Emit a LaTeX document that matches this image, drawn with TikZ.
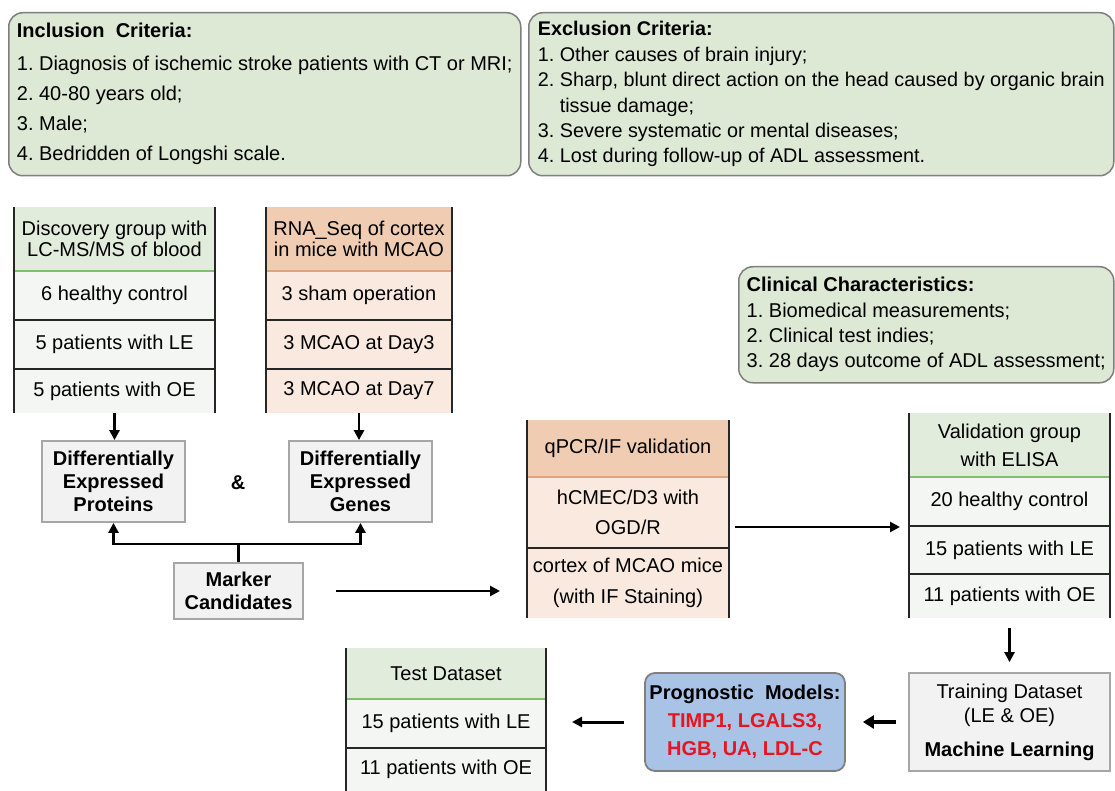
\documentclass[tikz,border=0pt]{standalone}
\usepackage{fontspec}
\setmainfont{Liberation Sans}
\usetikzlibrary{positioning,arrows.meta}
\frenchspacing

\definecolor{boxgreen}{HTML}{DDE8D5}
\definecolor{critgray}{HTML}{7F7F7F}
\definecolor{headgreen}{HTML}{E2ECDC}
\definecolor{rowgreen}{HTML}{F4F6F3}
\definecolor{linegreen}{HTML}{7FBF6F}
\definecolor{headorange}{HTML}{F0CDB2}
\definecolor{roworange}{HTML}{F9E9DE}
\definecolor{lineorange}{HTML}{E2A27C}
\definecolor{boxgray}{HTML}{F2F2F2}
\definecolor{bordergray}{HTML}{A6A6A6}
\definecolor{modelblue}{HTML}{A9C3E6}
\definecolor{markred}{HTML}{E8141E}

\newcommand{\fs}{\fontsize{20}{24}\selectfont}

\tikzset{
  crit/.style={draw=critgray, fill=boxgreen, line width=1.5pt, rounded corners=14pt, anchor=north west, align=left, inner sep=0pt},
  tcell/.style={inner sep=0pt, outer sep=0pt, align=center, font=\fs},
  greenhead/.style={tcell, fill=headgreen},
  greenrow/.style={tcell, fill=rowgreen},
  orangehead/.style={tcell, fill=headorange},
  orangerow/.style={tcell, fill=roworange},
  side/.style={line width=2.2pt, black!85},
  sep/.style={line width=1.8pt, black!85},
  graybox/.style={draw=bordergray, fill=boxgray, line width=1.8pt, align=center, inner sep=0pt},
  arr/.style={-{Triangle[length=10pt,width=10pt]}, line width=2.6pt},
}

\begin{document}
\begin{tikzpicture}[x=1pt,y=-1pt]
  \useasboundingbox (0,0) rectangle (1115,791);

  \node[crit, minimum width=512pt, minimum height=163pt, font=\fontsize{20}{30}\selectfont] (incl) at (8,12)
    {\textbf{Inclusion\ \ Criteria:}\\[3pt]
     1. Diagnosis of ischemic stroke patients with CT or MRI;\\
     2. 40-80 years old;\\
     3. Male;\\
     4. Bedridden of Longshi scale.};
  \node[crit, minimum width=585pt, minimum height=163pt, font=\fontsize{19.8}{25.4}\selectfont] (excl) at (528,12)
    {\textbf{Exclusion Criteria:}\\
     1. Other causes of brain injury;\\
     2. Sharp, blunt direct action on the head caused by organic brain\\
     \phantom{2. }tissue damage;\\
     3. Severe systematic or mental diseases;\\
     4. Lost during follow-up of ADL assessment.};
  \node[crit, minimum width=375pt, minimum height=116pt, font=\fontsize{20}{25.3}\selectfont] (clin) at (738,266)
    {\textbf{Clinical Characteristics:}\\
     1. Biomedical measurements;\\
     2. Clinical test indies;\\
     3. 28 days outcome of ADL assessment;};

  \node[greenhead, minimum width=201pt, minimum height=64pt, anchor=north west, font=\fontsize{20}{20.5}\selectfont] (dgHead) at (14,207) {Discovery group with\\LC-MS/MS of blood};
  \node[greenrow, minimum width=201pt, minimum height=49pt, below=0pt of dgHead] (dgRow1) {6 healthy control};
  \node[greenrow, minimum width=201pt, minimum height=49pt, below=0pt of dgRow1] (dgRow2) {5 patients with LE};
  \node[greenrow, minimum width=201pt, minimum height=44pt, below=0pt of dgRow2] (dgRow3) {5 patients with OE};
  \draw[linegreen, line width=1.5pt] (dgHead.south west) -- (dgHead.south east);
  \draw[sep] (dgRow1.south west) -- (dgRow1.south east);
  \draw[sep] (dgRow2.south west) -- (dgRow2.south east);
  \draw[side] (dgHead.north west) -- (dgRow3.south west);
  \draw[side] (dgHead.north east) -- (dgRow3.south east);

  \node[orangehead, minimum width=186pt, minimum height=64pt, anchor=north west, font=\fontsize{20}{20.5}\selectfont] (rnHead) at (266,207) {RNA\_Seq of cortex\\in mice with MCAO};
  \node[orangerow, minimum width=186pt, minimum height=49pt, below=0pt of rnHead] (rnRow1) {3 sham operation};
  \node[orangerow, minimum width=186pt, minimum height=49pt, below=0pt of rnRow1] (rnRow2) {3 MCAO at Day3};
  \node[orangerow, minimum width=186pt, minimum height=44pt, below=0pt of rnRow2] (rnRow3) {3 MCAO at Day7};
  \draw[lineorange, line width=1.5pt] (rnHead.south west) -- (rnHead.south east);
  \draw[sep] (rnRow1.south west) -- (rnRow1.south east);
  \draw[sep] (rnRow2.south west) -- (rnRow2.south east);
  \draw[side] (rnHead.north west) -- (rnRow3.south west);
  \draw[side] (rnHead.north east) -- (rnRow3.south east);

  \node[graybox, minimum width=143pt, minimum height=81pt, font=\fontsize{20}{23.3}\selectfont\bfseries] (dep) at (113.5,481.5) {Differentially\\Expressed\\Proteins};
  \node[graybox, minimum width=143pt, minimum height=81pt, font=\fontsize{20}{23.3}\selectfont\bfseries] (deg) at (360.5,481.5) {Differentially\\Expressed\\Genes};
  \node[font=\fs\bfseries] (amp) at (238,483) {\&};
  \node[graybox, minimum width=129pt, minimum height=56pt, font=\fontsize{20}{23.3}\selectfont\bfseries] (marker) at (238.5,591) {Marker\\Candidates};

  \draw[arr] (dgRow3.south) -- (dgRow3.south |- dep.north);
  \draw[arr] (rnRow3.south) -- (rnRow3.south |- deg.north);
  \draw[line width=2.6pt] (marker.north) -- ++(0,-18) coordinate (fork);
  \draw[arr] (fork) -| (dep.south);
  \draw[arr] (fork) -| (deg.south);

  \node[orangehead, minimum width=202pt, minimum height=57pt, anchor=north west] (qHead) at (527,420) {qPCR/IF validation};
  \node[orangerow, minimum width=202pt, minimum height=71pt, below=0pt of qHead, font=\fontsize{20}{30}\selectfont] (qRow1) {hCMEC/D3 with\\OGD/R};
  \node[orangerow, minimum width=202pt, minimum height=70pt, below=0pt of qRow1, font=\fontsize{20}{31}\selectfont] (qRow2) {cortex of MCAO mice\\(with IF Staining)};
  \draw[lineorange, line width=1.5pt] (qHead.south west) -- (qHead.south east);
  \draw[sep] (qRow1.south west) -- (qRow1.south east);
  \draw[side] (qHead.north west) -- (qRow2.south west);
  \draw[side] (qHead.north east) -- (qRow2.south east);

  \draw[arr, shorten <=32pt, shorten >=27pt] (marker.east) -- (marker.east -| qRow2.west);

  \node[greenhead, minimum width=201pt, minimum height=64pt, anchor=north west, font=\fontsize{20}{28}\selectfont] (vHead) at (909,413) {Validation group\\with ELISA};
  \node[greenrow, minimum width=201pt, minimum height=49pt, below=0pt of vHead] (vRow1) {20 healthy control};
  \node[greenrow, minimum width=201pt, minimum height=48pt, below=0pt of vRow1] (vRow2) {15 patients with LE};
  \node[greenrow, minimum width=201pt, minimum height=44pt, below=0pt of vRow2] (vRow3) {11 patients with OE};
  \draw[linegreen, line width=1.5pt] (vHead.south west) -- (vHead.south east);
  \draw[sep] (vRow1.south west) -- (vRow1.south east);
  \draw[sep] (vRow2.south west) -- (vRow2.south east);
  \draw[side] (vHead.north west) -- (vRow3.south west);
  \draw[side] (vHead.north east) -- (vRow3.south east);

  \coordinate (qv) at ([yshift=-14.5pt]qRow1.east);
  \draw[arr, shorten <=6pt, shorten >=9pt] (qv) -- (qv -| vHead.west);

  \node[graybox, minimum width=201pt, minimum height=98pt, font=\fontsize{20}{24}\selectfont] (train) at (1009.5,722) {Training Dataset\\(LE \& OE)\\[10pt]\textbf{Machine Learning}};
  \node[draw=critgray, fill=modelblue, line width=1.8pt, rounded corners=10pt, minimum width=200pt, minimum height=98pt, align=center, inner sep=0pt, font=\fontsize{20}{28}\selectfont\bfseries] (model) at (745,722)
    {Prognostic\ \ Models:\\\textcolor{markred}{TIMP1, LGALS3,}\\\textcolor{markred}{HGB, UA, LDL-C}};

  \draw[arr, shorten <=10pt, shorten >=10pt] (vRow3.south) -- (vRow3.south |- train.north);
  \draw[-{Triangle[length=11pt,width=13pt]}, line width=4pt, shorten <=12pt, shorten >=17pt] (train.west) -- (model.east);

  \node[greenhead, minimum width=200pt, minimum height=51pt, anchor=north west] (tHead) at (346,648) {Test Dataset};
  \node[greenrow, minimum width=200pt, minimum height=49pt, below=0pt of tHead] (tRow1) {15 patients with LE};
  \node[greenrow, minimum width=200pt, minimum height=43pt, below=0pt of tRow1] (tRow2) {11 patients with OE};
  \draw[linegreen, line width=1.5pt] (tHead.south west) -- (tHead.south east);
  \draw[sep] (tRow1.south west) -- (tRow1.south east);
  \draw[side] (tHead.north west) -- (tRow2.south west);
  \draw[side] (tHead.north east) -- (tRow2.south east);

  \draw[-{Triangle[length=10pt,width=10pt]}, line width=3pt, shorten <=20pt, shorten >=26pt] (model.west) -- (model.west -| tRow1.east);
\end{tikzpicture}
\end{document}
